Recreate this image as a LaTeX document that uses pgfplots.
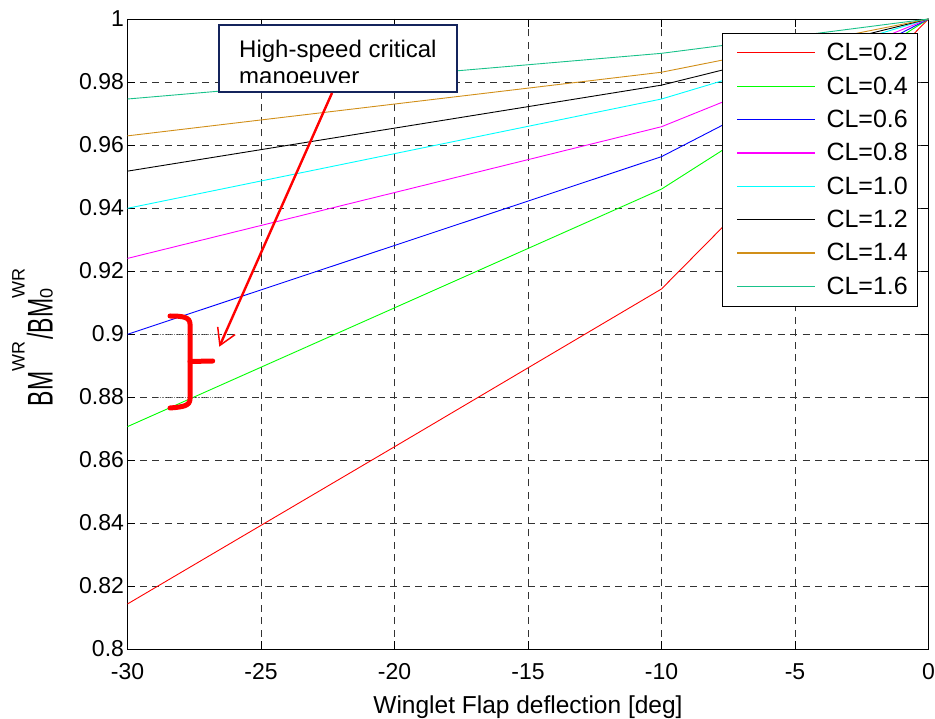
\documentclass[border=0pt]{standalone}
\usepackage{fontspec}
\setmainfont{Liberation Sans}
\usepackage{graphicx}
\usepackage{pgfplots}
\pgfplotsset{compat=1.18}
\usetikzlibrary{arrows.meta}
\definecolor{cred}{rgb}{1,0,0}
\definecolor{cgreen}{rgb}{0,1,0}
\definecolor{cblue}{rgb}{0,0,1}
\definecolor{cmag}{rgb}{1,0,1}
\definecolor{ccyan}{rgb}{0,1,1}
\definecolor{cblack}{rgb}{0,0,0}
\definecolor{corange}{rgb}{0.82,0.56,0.10}
\definecolor{cteal}{rgb}{0.10,0.76,0.54}
\definecolor{navy}{rgb}{0.08,0.14,0.36}
\newcommand{\sups}[1]{\raisebox{28pt}{\fontsize{18}{18}\selectfont #1}}
\newcommand{\stretched}[1]{\scalebox{1}[1.55]{#1}}
\begin{document}
\begin{tikzpicture}
\useasboundingbox (-127.5pt,-69pt) rectangle (807.5pt,649pt);
\begin{axis}[
  at={(0pt,0pt)}, anchor=south west,
  width=801pt, height=630pt, scale only axis,
  xmin=-30, xmax=0, ymin=0.8, ymax=1,
  xtick={-30,-25,-20,-15,-10,-5,0},
  xticklabels={-30,-25,-20,-15,-10,-5,0},
  ytick={0.8,0.82,0.84,0.86,0.88,0.9,0.92,0.94,0.96,0.98,1},
  yticklabels={0.8,0.82,0.84,0.86,0.88,0.9,0.92,0.94,0.96,0.98,1},
  grid=major,
  major grid style={black!80, line width=0.7pt, dash pattern=on 7pt off 5.5pt},
  tick align=inside, major tick length=8pt,
  tick style={black, line width=0.8pt},
  axis line style={black, line width=0.8pt},
  ticklabel style={font=\fontsize{23}{23}\selectfont},
  xticklabel style={yshift=-11pt},
  xlabel={Winglet Flap deflection [deg]},
  xlabel style={font=\fontsize{24.5}{25}\selectfont, at={(axis description cs:0.5,-0.1016)}, anchor=base},
  ylabel={\stretched{BM}\kern0.5pt\sups{WR}\kern1.5pt\stretched{/BM}\rlap{\fontsize{18}{18}\selectfont 0}\sups{WR}},
  ylabel style={font=\fontsize{23}{23}\selectfont, at={(axis description cs:-0.0935,0.4944)}, anchor=base, rotate=0},
  legend style={at={(axis description cs:0.9857,0.9778)}, anchor=north east,
    font=\fontsize{25}{25}\selectfont, fill=white,
    inner xsep=9pt, inner ysep=3pt, row sep=0pt, column sep=0pt,
    nodes={inner xsep=0pt, inner ysep=7.2pt}},
  legend cell align=left,
  legend image code/.code={\path (0pt,0pt) (94pt,0pt); \draw[#1, line width=1.2pt] (5pt,0pt) -- (83pt,0pt);},
]
\addplot[cred, line width=0.9pt] coordinates {(-30,0.8143) (-20,0.8642) (-10,0.9143) (0,1)};
\addlegendentry{CL=0.2}
\addplot[cgreen, line width=0.9pt] coordinates {(-30,0.8706) (-10,0.9460) (0,1)};
\addlegendentry{CL=0.4}
\addplot[cblue, line width=0.9pt] coordinates {(-30,0.8999) (-10,0.9563) (0,1)};
\addlegendentry{CL=0.6}
\addplot[cmag, line width=0.9pt] coordinates {(-30,0.9240) (-10,0.9658) (0,1)};
\addlegendentry{CL=0.8}
\addplot[ccyan, line width=0.9pt] coordinates {(-30,0.9399) (-10,0.9746) (0,1)};
\addlegendentry{CL=1.0}
\addplot[cblack, line width=0.9pt] coordinates {(-30,0.9517) (-10,0.9790) (0,1)};
\addlegendentry{CL=1.2}
\addplot[corange, line width=0.9pt] coordinates {(-30,0.9629) (-10,0.9831) (0,1)};
\addlegendentry{CL=1.4}
\addplot[cteal, line width=0.9pt] coordinates {(-30,0.9746) (-10,0.9891) (0,1)};
\addlegendentry{CL=1.6}
\draw[gray, line width=0.8pt, densely dotted] (axis cs:-28.86,0.9) -- (axis cs:-26.54,0.9);
\draw[gray, line width=0.8pt, densely dotted] (axis cs:-28.86,0.88) -- (axis cs:-26.42,0.88);
\end{axis}
\begin{scope}[x=1pt,y=1pt]
  % annotation box
  \fill[white] (91.5,557) rectangle (329.5,624);
  \begin{scope}
    \clip (91.5,566) rectangle (329.5,624);
    \node[anchor=base west, inner sep=0pt, font=\fontsize{24}{24}\selectfont] at (111.5,591.7) {High-speed critical};
    \node[anchor=base west, inner sep=0pt, font=\fontsize{24}{24}\selectfont] at (111.5,564.5) {manoeuver};
  \end{scope}
  \draw[navy, line width=2pt] (91.5,557) rectangle (329.5,624);
  % arrow
  \draw[cred, line width=2.4pt, -{Straight Barb[length=16pt,width=19pt,line width=1.5pt]}] (204.5,556) -- (91.8,302.3);
  % brace
  \draw[cred, line width=5pt, line cap=round, line join=round]
    (42.5,333) .. controls (55,333) and (62.5,332) .. (62.5,325) -- (62.5,250)
    .. controls (62.5,243) and (55,242) .. (42.5,241);
  \draw[cred, line width=5pt, line cap=round] (62.5,287.5) -- (85.2,288);
\end{scope}
\end{tikzpicture}
\end{document}
